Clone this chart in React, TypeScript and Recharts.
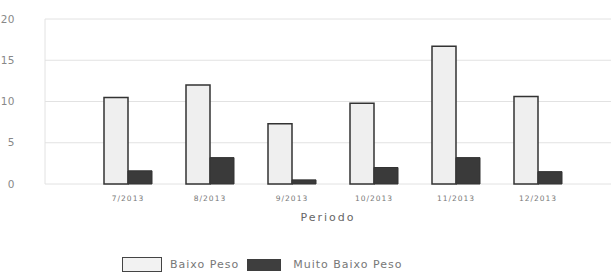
import { BarChart, Bar, XAxis, YAxis, CartesianGrid, Legend, Label } from 'recharts';

const periods = ['7/2013', '8/2013', '9/2013', '10/2013', '11/2013', '12/2013'];
const baixoPeso = [10.5, 12, 7.3, 9.8, 16.7, 10.6];
const muitoBaixoPeso = [1.6, 3.2, 0.5, 2, 3.2, 1.5];
const yTicks = [0, 5, 10, 15, 20];

const data = periods.map((p, i) => ({ periodo: p, baixo: baixoPeso[i], muito: muitoBaixoPeso[i] }));

const font = '"DejaVu Sans", sans-serif';

function LegendContent() {
  return (
    <div style={{ display: 'flex', alignItems: 'center', fontFamily: font, fontSize: 11, color: '#777', letterSpacing: 1 }}>
      <span style={{ display: 'inline-block', width: 38, height: 13, border: '1.5px solid #444', background: '#f2f2f2', marginRight: 8 }} />
      <span style={{ marginRight: 8 }}>Baixo Peso</span>
      <span style={{ display: 'inline-block', width: 34, height: 12, background: '#3e3e3e', marginRight: 12 }} />
      <span>Muito Baixo Peso</span>
    </div>
  );
}

export default function App() {
  return (
    <div style={{ position: 'absolute', left: 0, top: 0, background: '#fff' }}>
      <BarChart width={611} height={275} data={data} margin={{ top: 19, right: 0, bottom: 10, left: 0 }} barGap={0} barSize={24}>
        <CartesianGrid vertical={false} stroke="#e2e2e2" />
        <XAxis
          dataKey="periodo"
          axisLine={false}
          tickLine={false}
          height={45}
          padding={{ left: 42, right: 32 }}
          tick={{ fontSize: 7.5, fill: '#777', fontFamily: font, letterSpacing: 1 }}
          tickMargin={6}
        >
          <Label value="Periodo" position="insideBottom" offset={8} style={{ fontSize: 11, fill: '#666', fontFamily: font, letterSpacing: 2 }} />
        </XAxis>
        <YAxis
          domain={[0, 20]}
          ticks={yTicks}
          width={45}
          axisLine={{ stroke: '#e2e2e2' }}
          tickLine={false}
          tickMargin={24}
          tick={{ fontSize: 10.5, fill: '#888', fontFamily: font, letterSpacing: 0.5 }}
        />
        <Legend
          verticalAlign="bottom"
          height={36}
          content={<LegendContent />}
          wrapperStyle={{ left: 122, top: 257, bottom: 'auto', width: 320 }}
        />
        <Bar dataKey="baixo" name="Baixo Peso" fill="#efefef" stroke="#333" strokeWidth={1.5} isAnimationActive={false} />
        <Bar dataKey="muito" name="Muito Baixo Peso" fill="#3a3a3a" stroke="#333" strokeWidth={1} isAnimationActive={false} />
      </BarChart>
    </div>
  );
}
